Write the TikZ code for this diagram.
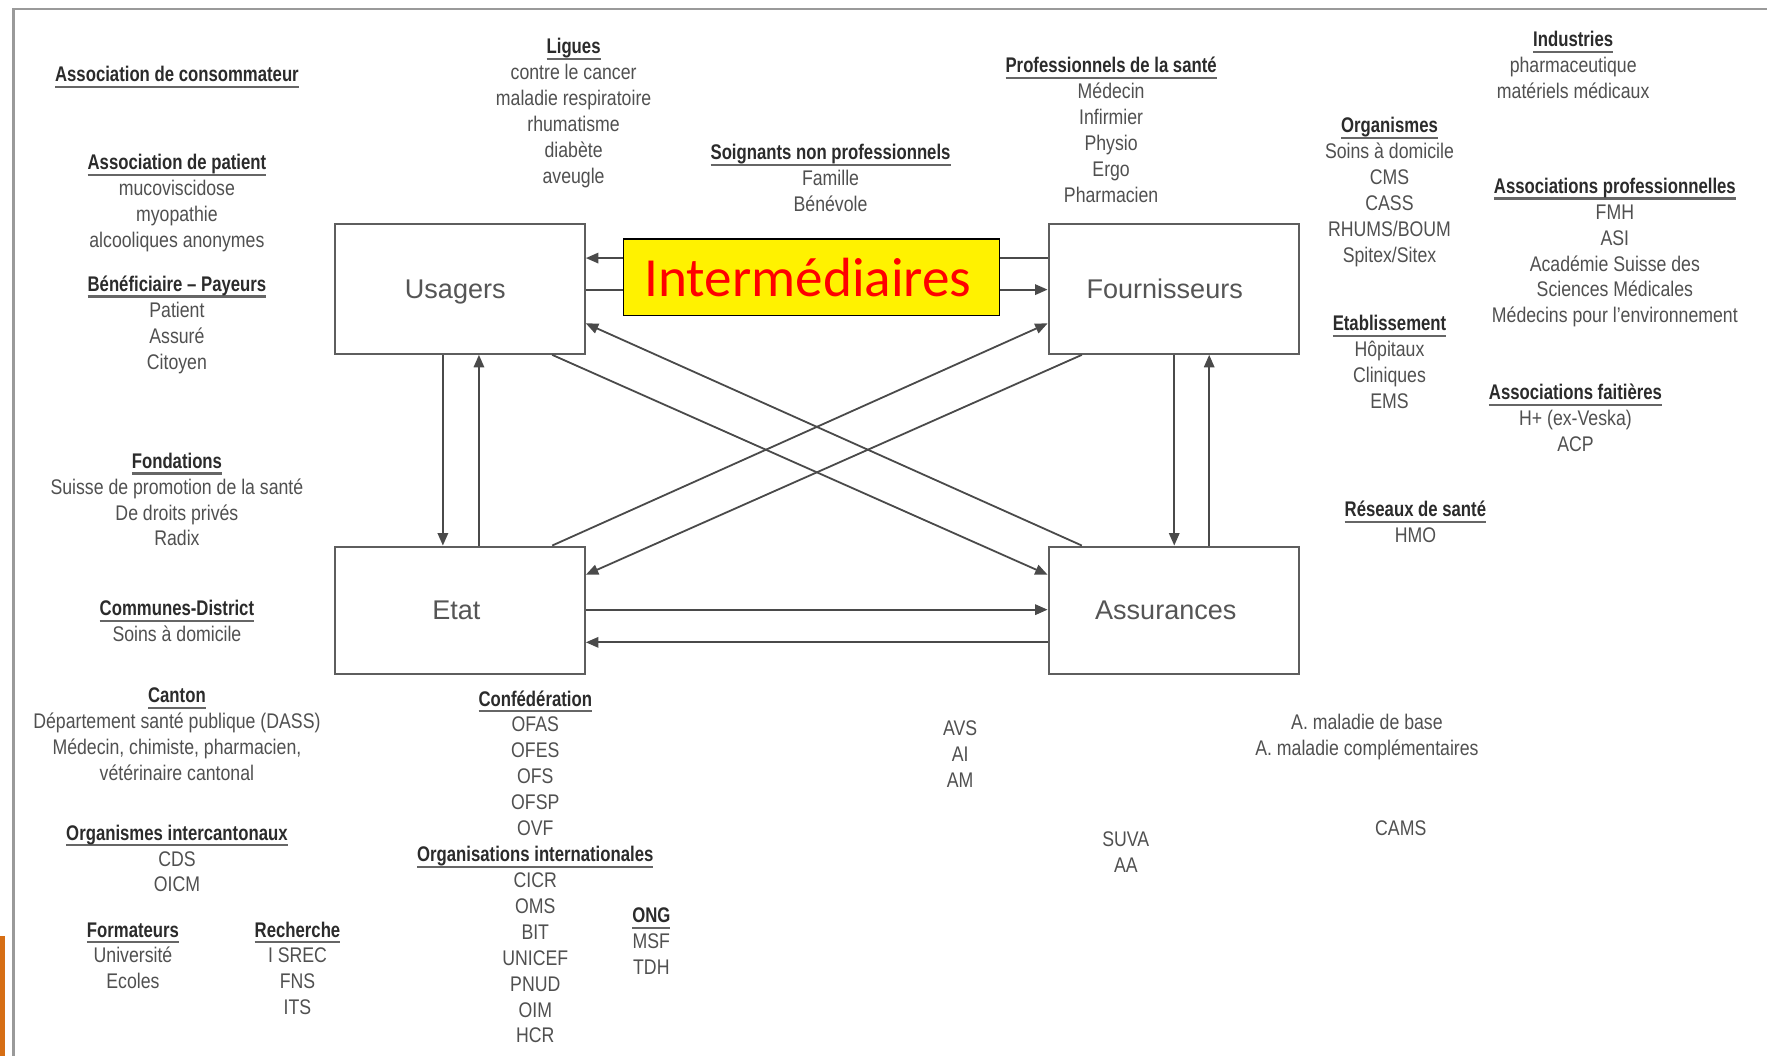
\documentclass[tikz,border=0pt]{standalone}
\usepackage{fontspec}
\setmainfont{Liberation Sans}
\newfontfamily\itfont[FakeStretch=0.835]{Liberation Sans}
\newfontfamily\hdfont[FakeStretch=0.79]{Liberation Sans}
\newfontfamily\calfont{Carlito}
\usetikzlibrary{arrows.meta,calc}
\definecolor{linecol}{HTML}{4A4A4A}
\definecolor{boxcol}{HTML}{5E5E5E}
\definecolor{boxlab}{HTML}{555555}
\definecolor{itcol}{HTML}{505050}
\definecolor{hdcol}{HTML}{2B2B2B}
\definecolor{ulcol}{HTML}{666666}
\definecolor{framecol}{HTML}{9A9A9A}
\definecolor{orangebar}{RGB}{214,110,20}
\newcommand\itsize{\fontsize{9.4pt}{11.5pt}\selectfont}
\newcommand\hd[1]{{\hdfont\bfseries\color{hdcol}\setbox0\hbox{#1}\rlap{\color{ulcol}\rule[-2.8pt]{\wd0}{0.95pt}}\box0}}
\tikzset{
  box/.style={draw=boxcol, line width=0.9pt, minimum width=111pt, minimum height=57.5pt, inner sep=0pt, font=\fontsize{12pt}{14pt}\selectfont, text=boxlab},
  arr/.style={draw=linecol, line width=0.8pt, -{Triangle[length=5.5pt,width=4.6pt]}},
  grp/.style={anchor=north, inner sep=0pt, align=center, font=\itfont\itsize, text=itcol},
}
\begin{document}
\begin{tikzpicture}[x=0.5pt,y=-0.5pt]
\useasboundingbox (0,0) rectangle (1568,937);
\fill[white] (0,0) rectangle (1568,937);
% frame and side bar
\draw[framecol, line width=1pt] (12,937) -- (12,8) -- (1568,8);
\fill[orangebar] (0,831) rectangle (4.5,937);

% main boxes
\node[box, text depth=0pt] (us) at (408,256.5) {\hspace*{-4pt}Usagers};
\node[box] (fo) at (1041.5,256.5) {\hspace*{-8pt}Fournisseurs};
\node[box, minimum height=56.5pt] (et) at (408,541.5) {\hspace*{-3pt}Etat};
\node[box, minimum height=56.5pt] (as) at (1041.5,541.5) {\hspace*{-7pt}Assurances};

% horizontal connectors
\draw[arr] (fo.west |- 0,229) -- (us.east |- 0,229);
\draw[arr] (us.east |- 0,257) -- (fo.west |- 0,257);
\draw[arr] (et.east |- 0,541) -- (as.west |- 0,541);
\draw[arr] (as.west |- 0,570) -- (et.east |- 0,570);
% vertical connectors
\draw[arr] (us.south -| 393,0) -- (et.north -| 393,0);
\draw[arr] (et.north -| 425,0) -- (us.south -| 425,0);
\draw[arr] (fo.south -| 1042,0) -- (as.north -| 1042,0);
\draw[arr] (as.north -| 1073,0) -- (fo.south -| 1073,0);
% diagonal connectors
\draw[arr] (us.south -| 490,0) -- (as.west |- 0,510);
\draw[arr] (as.north -| 960,0) -- (us.east |- 0,287);
\draw[arr] (et.north -| 490,0) -- (fo.west |- 0,287);
\draw[arr] (fo.south -| 960,0) -- (et.east |- 0,510);

% intermediaires
\node[draw=black, fill=yellow, line width=0.6pt, minimum width=167pt, minimum height=34pt, inner sep=0pt, font=\calfont\fontsize{24.5pt}{28pt}\selectfont, text=red] (im) at (720,246) {\raisebox{-1pt}{\hspace*{-3pt}Intermédiaires}};

% text groups
\node[grp] (g1) at (157,56) {\strut\hd{Association de consommateur}};
\node[grp] (g2) at (157,134) {\strut\hd{Association de patient}\\mucoviscidose\\myopathie\\alcooliques anonymes};
\node[grp] (g3) at (157,242) {\strut\hd{Bénéficiaire – Payeurs}\\Patient\\Assuré\\Citoyen};
\node[grp] (g4) at (157,399) {\strut\hd{Fondations}\\Suisse de promotion de la santé\\De droits privés\\Radix};
\node[grp] (g5) at (157,530) {\strut\hd{Communes-District}\\Soins à domicile};
\node[grp] (g6) at (157,607) {\strut\hd{Canton}\\Département santé publique (DASS)\\Médecin, chimiste, pharmacien,\\vétérinaire cantonal};
\node[grp] (g7) at (157,729) {\strut\hd{Organismes intercantonaux}\\CDS\\OICM};
\node[grp] (g8) at (118,815) {\strut\hd{Formateurs}\\Université\\Ecoles};
\node[grp] (g9) at (264,815) {\strut\hd{Recherche}\\I SREC\\FNS\\ITS};
\node[grp] (g10) at (509,31) {\strut\hd{Ligues}\\contre le cancer\\maladie respiratoire\\rhumatisme\\diabète\\aveugle};
\node[grp] (g11) at (737,125) {\strut\hd{Soignants non professionnels}\\Famille\\Bénévole};
\node[grp] (g12) at (986,48) {\strut\hd{Professionnels de la santé}\\Médecin\\Infirmier\\Physio\\Ergo\\Pharmacien};
\node[grp] (g13) at (1396,25) {\strut\hd{Industries}\\pharmaceutique\\matériels médicaux};
\node[grp] (g14) at (1233,101) {\strut\hd{Organismes}\\Soins à domicile\\CMS\\CASS\\RHUMS/BOUM\\Spitex/Sitex};
\node[grp] (g15) at (1433,155) {\strut\hd{Associations professionnelles}\\FMH\\ASI\\Académie Suisse des\\Sciences Médicales\\Médecins pour l’environnement};
\node[grp] (g16) at (1233,277) {\strut\hd{Etablissement}\\Hôpitaux\\Cliniques\\EMS};
\node[grp] (g17) at (1398,338) {\strut\hd{Associations faitières}\\H+ (ex-Veska)\\ACP};
\node[grp] (g18) at (1256,442) {\strut\hd{Réseaux de santé}\\HMO};
\node[grp] (g19) at (475,610) {\strut\hd{Confédération}\\OFAS\\OFES\\OFS\\OFSP\\OVF};
\node[grp] (g20) at (475,748) {\strut\hd{Organisations internationales}\\CICR\\OMS\\BIT\\UNICEF\\PNUD\\OIM\\HCR};
\node[grp] (g21) at (578,802) {\strut\hd{ONG}\\MSF\\TDH};
\node[grp] (g22) at (852,636) {\strut AVS\\AI\\AM};
\node[grp] (g23) at (999,735) {\strut SUVA\\AA};
\node[grp] (g24) at (1213,631) {\strut A. maladie de base\\A. maladie complémentaires};
\node[grp] (g25) at (1243,725) {\strut CAMS};
\end{tikzpicture}
\end{document}
